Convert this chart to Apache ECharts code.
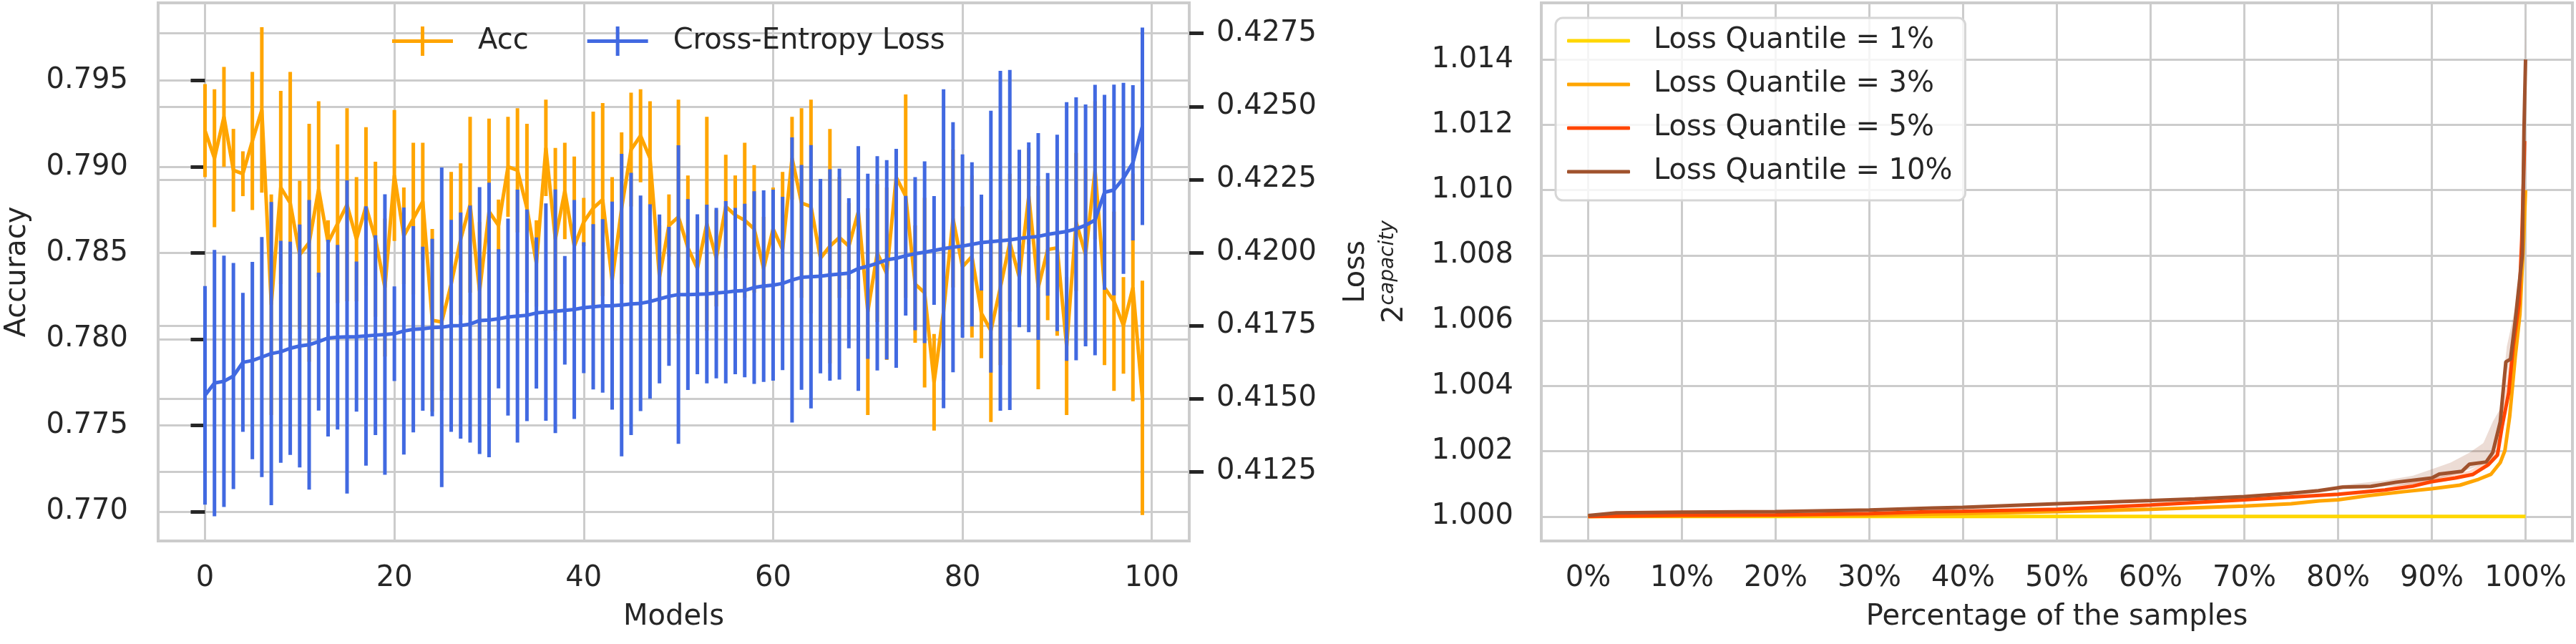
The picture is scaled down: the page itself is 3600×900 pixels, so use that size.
<!DOCTYPE html>
<html>
<head>
<meta charset="utf-8">
<script src="https://cdn.jsdelivr.net/npm/echarts@6/dist/echarts.min.js"></script>
<style>
  html, body { margin: 0; padding: 0; background: #fff; }
  #chart { width: 3600px; height: 900px; }
</style>
</head>
<body>
<div id="chart"></div>
<script>
// left panel: 100 models, accuracy and cross-entropy loss (mean, std)
const accMean = [0.7921, 0.7905, 0.7929, 0.7898, 0.7896, 0.7915, 0.7933, 0.7820, 0.7888, 0.7879,
  0.7849, 0.7856, 0.7887, 0.7856, 0.7867, 0.7878, 0.7858, 0.7877, 0.7858, 0.7830,
  0.7895, 0.7860, 0.7870, 0.7880, 0.7811, 0.7810, 0.7832, 0.7858, 0.7878, 0.7828,
  0.7874, 0.7866, 0.7900, 0.7898, 0.7876, 0.7844, 0.7911, 0.7858, 0.7886, 0.7854,
  0.7868, 0.7876, 0.7881, 0.7834, 0.7876, 0.7910, 0.7918, 0.7905, 0.7836, 0.7866,
  0.7871, 0.7853, 0.7841, 0.7867, 0.7847, 0.7877, 0.7872, 0.7869, 0.7864, 0.7841,
  0.7864, 0.7852, 0.7905, 0.7879, 0.7877, 0.7847, 0.7854, 0.7859, 0.7854, 0.7874,
  0.7816, 0.7850, 0.7838, 0.7894, 0.7883, 0.7832, 0.7827, 0.7775, 0.7816, 0.7870,
  0.7842, 0.7848, 0.7815, 0.7805, 0.7830, 0.7856, 0.7836, 0.7883, 0.7830, 0.7852,
  0.7853, 0.7796, 0.7868, 0.7849, 0.7898, 0.7830, 0.7822, 0.7808, 0.7830, 0.7766]
const accErr = [0.0027, 0.0040, 0.0029, 0.0024, 0.0013, 0.0040, 0.0048, 0.0064, 0.0056, 0.0076,
  0.0043, 0.0069, 0.0051, 0.0013, 0.0046, 0.0056, 0.0036, 0.0046, 0.0045, 0.0040,
  0.0038, 0.0028, 0.0044, 0.0034, 0.0053, 0.0040, 0.0065, 0.0044, 0.0051, 0.0040,
  0.0054, 0.0015, 0.0029, 0.0036, 0.0049, 0.0025, 0.0028, 0.0053, 0.0028, 0.0052,
  0.0014, 0.0056, 0.0056, 0.0060, 0.0044, 0.0033, 0.0027, 0.0033, 0.0030, 0.0018,
  0.0068, 0.0042, 0.0030, 0.0062, 0.0028, 0.0030, 0.0023, 0.0045, 0.0037, 0.0030,
  0.0024, 0.0045, 0.0024, 0.0055, 0.0062, 0.0040, 0.0068, 0.0035, 0.0025, 0.0035,
  0.0060, 0.0040, 0.0050, 0.0016, 0.0059, 0.0034, 0.0055, 0.0028, 0.0040, 0.0040,
  0.0035, 0.0047, 0.0026, 0.0053, 0.0045, 0.0040, 0.0025, 0.0028, 0.0059, 0.0041,
  0.0051, 0.0040, 0.0040, 0.0050, 0.0040, 0.0045, 0.0052, 0.0028, 0.0066, 0.0068]
const lossMean = [0.41511, 0.41553, 0.41559, 0.41577, 0.41624, 0.41630, 0.41642, 0.41654, 0.41660, 0.41672,
  0.41680, 0.41684, 0.41695, 0.41707, 0.41710, 0.41711, 0.41712, 0.41714, 0.41717, 0.41719,
  0.41722, 0.41731, 0.41737, 0.41739, 0.41743, 0.41744, 0.41749, 0.41750, 0.41755, 0.41767,
  0.41769, 0.41773, 0.41779, 0.41782, 0.41785, 0.41793, 0.41796, 0.41799, 0.41802, 0.41805,
  0.41811, 0.41814, 0.41817, 0.41818, 0.41820, 0.41824, 0.41826, 0.41832, 0.41841, 0.41850,
  0.41856, 0.41856, 0.41857, 0.41858, 0.41861, 0.41864, 0.41868, 0.41870, 0.41880, 0.41885,
  0.41888, 0.41894, 0.41906, 0.41915, 0.41917, 0.41919, 0.41923, 0.41926, 0.41929, 0.41945,
  0.41953, 0.41963, 0.41975, 0.41980, 0.41989, 0.41996, 0.42001, 0.42007, 0.42013, 0.42018,
  0.42022, 0.42028, 0.42034, 0.42037, 0.42040, 0.42043, 0.42048, 0.42052, 0.42055, 0.42062,
  0.42067, 0.42072, 0.42081, 0.42093, 0.42111, 0.42206, 0.42214, 0.42254, 0.42307, 0.42432]
const lossErr = [0.00374, 0.00456, 0.00430, 0.00387, 0.00238, 0.00338, 0.00411, 0.00519, 0.00380, 0.00365,
  0.00416, 0.00496, 0.00236, 0.00337, 0.00316, 0.00536, 0.00257, 0.00444, 0.00342, 0.00480,
  0.00162, 0.00423, 0.00353, 0.00281, 0.00304, 0.00547, 0.00363, 0.00387, 0.00406, 0.00457,
  0.00470, 0.00238, 0.00337, 0.00433, 0.00362, 0.00259, 0.00372, 0.00417, 0.00186, 0.00375,
  0.00224, 0.00283, 0.00297, 0.00356, 0.00518, 0.00449, 0.00369, 0.00333, 0.00289, 0.00238,
  0.00511, 0.00327, 0.00274, 0.00306, 0.00292, 0.00312, 0.00285, 0.00297, 0.00330, 0.00328,
  0.00327, 0.00297, 0.00488, 0.00385, 0.00451, 0.00333, 0.00362, 0.00361, 0.00257, 0.00419,
  0.00317, 0.00367, 0.00341, 0.00375, 0.00205, 0.00262, 0.00311, 0.00186, 0.00546, 0.00428,
  0.00314, 0.00281, 0.00164, 0.00448, 0.00582, 0.00582, 0.00304, 0.00325, 0.00354, 0.00210,
  0.00336, 0.00443, 0.00450, 0.00414, 0.00463, 0.00334, 0.00361, 0.00327, 0.00266, 0.00338]

const modelTicks = [0, 20, 40, 60, 80, 100]
const accTicks = [0.770, 0.775, 0.780, 0.785, 0.790, 0.795]
const lossTicks = [0.4125, 0.4150, 0.4175, 0.4200, 0.4225, 0.4250, 0.4275]

// right panel: 2^capacity against percentage of the samples, one curve per loss quantile
const pctTicks = [0, 10, 20, 30, 40, 50, 60, 70, 80, 90, 100]
const capTicks = [1.000, 1.002, 1.004, 1.006, 1.008, 1.010, 1.012, 1.014]
const quantileNames = ['Loss Quantile = 1%', 'Loss Quantile = 3%', 'Loss Quantile = 5%', 'Loss Quantile = 10%']
const q1 = [[0, 1.0], [100, 1.0]]
const q3 = [[0, 1.0], [30, 1.00004], [36.7, 1.00007], [40, 1.00009], [50, 1.00015], [60, 1.00022],
  [70, 1.00032], [75, 1.00039], [78, 1.00048], [80, 1.00051], [83, 1.00063], [87, 1.00076],
  [90, 1.00085], [93, 1.00096], [95, 1.00114], [96.3, 1.00129], [97.3, 1.00165], [97.8, 1.00202],
  [98.3, 1.00305], [98.9, 1.00489], [99.4, 1.0062], [99.8, 1.0085], [100, 1.0100]]
const q5 = [[0, 1.0], [10, 1.00004], [20, 1.00005], [30, 1.00009], [36.7, 1.00015], [40, 1.00016],
  [50, 1.00022], [60, 1.00035], [70, 1.00051], [80, 1.00068], [85, 1.00081], [88, 1.00093],
  [90, 1.00107], [92.5, 1.00118], [94.4, 1.00129], [96, 1.00158], [97, 1.00188], [97.5, 1.00276],
  [98.2, 1.00379], [98.7, 1.00526], [99.3, 1.0065], [99.6, 1.0085], [99.9, 1.0115]]
const q10 = [[0, 1.00003], [3, 1.00011], [10, 1.00013], [20, 1.00015], [30, 1.0002], [36.7, 1.00026],
  [40, 1.00028], [50, 1.00039], [60, 1.00049], [64.7, 1.00054], [70, 1.00061], [74.8, 1.00071],
  [77.9, 1.00079], [80.5, 1.0009], [83.5, 1.00092], [86.2, 1.00105], [90, 1.00118], [90.8, 1.0013],
  [93.2, 1.00138], [94, 1.0016], [95.8, 1.00167], [96.5, 1.00196], [97.3, 1.0029], [97.9, 1.00474],
  [98.4, 1.00482], [98.9, 1.0060], [99.65, 1.0080], [99.83, 1.0118], [100, 1.0140]]
// faint confidence bands: [pct, low, high]
const q5Band = [[85, 1.00078, 1.00088], [90, 1.00100, 1.00118], [94, 1.00122, 1.00140], [96, 1.00150, 1.00172],
  [97, 1.00180, 1.00210], [98, 1.00330, 1.00420], [99, 1.00550, 1.00650]]
const q10Band = [[80, 1.00085, 1.00095], [85, 1.00092, 1.00110], [88, 1.00098, 1.00125], [90, 1.00110, 1.00145],
  [92, 1.00125, 1.00165], [94, 1.00145, 1.00195], [95.5, 1.00160, 1.00225], [96.5, 1.00180, 1.00290],
  [97.3, 1.00250, 1.00330], [98, 1.00440, 1.00520], [98.9, 1.00570, 1.00640], [99.65, 1.00780, 1.00830],
  [100, 1.01380, 1.01545]]
const quantileColors = ['#FFD700', '#FFA500', '#FF4500', '#A0522D']

const FONT = 'DejaVu Sans'
const TEXT = '#262626'
const GRID = '#cccccc'

const chart = echarts.init(document.getElementById('chart'), null, { renderer: 'canvas' })

function errorBarSeries (name, mean, err, yIdx, color, z) {
  return {
    name: name,
    type: 'custom',
    xAxisIndex: 0,
    yAxisIndex: yIdx,
    z: z,
    itemStyle: { color: color },
    encode: { x: 0, y: [1, 2] },
    data: mean.map((m, i) => [i, m - err[i], m + err[i]]),
    renderItem: function (params, api) {
      const lo = api.coord([api.value(0), api.value(1)])
      const hi = api.coord([api.value(0), api.value(2)])
      return {
        type: 'line',
        shape: { x1: lo[0], y1: lo[1], x2: hi[0], y2: hi[1] },
        style: { stroke: color, lineWidth: 5 }
      }
    }
  }
}

function bandSeries (band, color, z) {
  return {
    type: 'custom',
    xAxisIndex: 1,
    yAxisIndex: 2,
    z: z,
    silent: true,
    encode: { x: 0, y: [1, 2] },
    data: band,
    renderItem: function (params, api) {
      const i = params.dataIndex
      if (i >= band.length - 1) return null
      const a = band[i]
      const b = band[i + 1]
      const pts = [
        api.coord([a[0], a[1]]), api.coord([b[0], b[1]]),
        api.coord([b[0], b[2]]), api.coord([a[0], a[2]])
      ]
      return { type: 'polygon', shape: { points: pts }, style: { fill: color, opacity: 0.2 } }
    }
  }
}

function lineSeries (name, data, xIdx, yIdx, color, z) {
  return {
    name: name,
    type: 'line',
    xAxisIndex: xIdx,
    yAxisIndex: yIdx,
    z: z,
    data: data,
    symbol: 'none',
    color: color,
    lineStyle: { color: color, width: 5 },
    emphasis: { disabled: true }
  }
}

const label = { fontFamily: FONT, fontSize: 40, color: TEXT }
const tick = { show: true, length: 20, lineStyle: { color: TEXT, width: 5 } }
const split = { show: true, lineStyle: { color: GRID, width: 3 } }
const errIcon = 'path://M0,18H85V23H0Z M40,0H45V41H40Z'

chart.setOption({
  backgroundColor: '#ffffff',
  animation: false,
  grid: [
    { left: 221, top: 4, width: 1441, height: 752, show: true, borderColor: GRID, borderWidth: 4, backgroundColor: 'transparent' },
    { left: 2154, top: 4, width: 1441, height: 752, show: true, borderColor: GRID, borderWidth: 4, backgroundColor: 'transparent' }
  ],
  legend: [
    {
      left: 548,
      top: 37,
      orient: 'horizontal',
      itemWidth: 85,
      itemHeight: 41,
      itemGap: 82,
      padding: 0,
      textStyle: Object.assign({ padding: [0, 0, 0, 30] }, label),
      data: [{ name: 'Acc', icon: errIcon }, { name: 'Cross-Entropy Loss', icon: errIcon }]
    },
    {
      left: 2174,
      top: 25,
      orient: 'vertical',
      itemWidth: 88,
      itemHeight: 5,
      itemGap: 21,
      padding: [12, 18, 20, 16],
      backgroundColor: 'rgba(255,255,255,0.8)',
      borderColor: '#d6d6d6',
      borderWidth: 3,
      borderRadius: 10,
      textStyle: Object.assign({ padding: [0, 0, 0, 28], lineHeight: 40 }, label),
      data: quantileNames.map(n => ({ name: n, icon: 'roundRect' }))
    }
  ],
  xAxis: [
    {
      gridIndex: 0,
      type: 'value',
      min: -4.95,
      max: 103.95,
      axisLine: { show: false },
      axisTick: { show: false, customValues: modelTicks },
      axisLabel: Object.assign({ customValues: modelTicks, margin: 33 }, label),
      splitLine: split,
      name: 'Models',
      nameLocation: 'middle',
      nameGap: 87,
      nameTextStyle: label
    },
    {
      gridIndex: 1,
      type: 'value',
      min: -5,
      max: 105,
      axisLine: { show: false },
      axisTick: { show: false, customValues: pctTicks },
      axisLabel: Object.assign({ customValues: pctTicks, margin: 33, formatter: v => v + '%' }, label),
      splitLine: split,
      name: 'Percentage of the samples',
      nameLocation: 'middle',
      nameGap: 87,
      nameTextStyle: label
    }
  ],
  yAxis: [
    {
      gridIndex: 0,
      type: 'value',
      position: 'left',
      min: 0.76830,
      max: 0.79951,
      axisLine: { show: false },
      axisTick: Object.assign({ customValues: accTicks }, tick),
      axisLabel: Object.assign({ customValues: accTicks, margin: 42, formatter: v => v.toFixed(3) }, label),
      splitLine: split,
      name: 'Accuracy',
      nameLocation: 'middle',
      nameGap: 176,
      nameTextStyle: label
    },
    {
      gridIndex: 0,
      type: 'value',
      position: 'right',
      min: 0.410124,
      max: 0.428546,
      axisLine: { show: false },
      axisTick: Object.assign({ customValues: lossTicks }, tick),
      axisLabel: Object.assign({ customValues: lossTicks, margin: 38, formatter: v => v.toFixed(4) }, label),
      splitLine: split,
      name: 'Loss',
      nameLocation: 'middle',
      nameGap: 214,
      nameTextStyle: label
    },
    {
      gridIndex: 1,
      type: 'value',
      min: 0.99925,
      max: 1.015735,
      axisLine: { show: false },
      axisTick: { show: false, customValues: capTicks },
      axisLabel: Object.assign({ customValues: capTicks, margin: 39, formatter: v => v.toFixed(3) }, label),
      splitLine: split,
      name: '{b|2}{s|capacity}',
      nameLocation: 'middle',
      nameGap: 180,
      nameTextStyle: {
        rich: {
          b: { fontFamily: FONT, fontSize: 40, color: TEXT, lineHeight: 48 },
          s: { fontFamily: FONT, fontSize: 28, fontStyle: 'italic', color: TEXT, verticalAlign: 'top', lineHeight: 48 }
        }
      }
    }
  ],
  series: [
    errorBarSeries('Acc', accMean, accErr, 0, '#FFA500', 2),
    lineSeries('Acc', accMean.map((v, i) => [i, v]), 0, 0, '#FFA500', 3),
    errorBarSeries('Cross-Entropy Loss', lossMean, lossErr, 1, '#4169E1', 4),
    lineSeries('Cross-Entropy Loss', lossMean.map((v, i) => [i, v]), 0, 1, '#4169E1', 5),
    bandSeries(q5Band, quantileColors[2], 1),
    bandSeries(q10Band, quantileColors[3], 1),
    lineSeries(quantileNames[0], q1, 1, 2, quantileColors[0], 2),
    lineSeries(quantileNames[1], q3, 1, 2, quantileColors[1], 3),
    lineSeries(quantileNames[2], q5, 1, 2, quantileColors[2], 4),
    lineSeries(quantileNames[3], q10, 1, 2, quantileColors[3], 5)
  ]
})
</script>
</body>
</html>
